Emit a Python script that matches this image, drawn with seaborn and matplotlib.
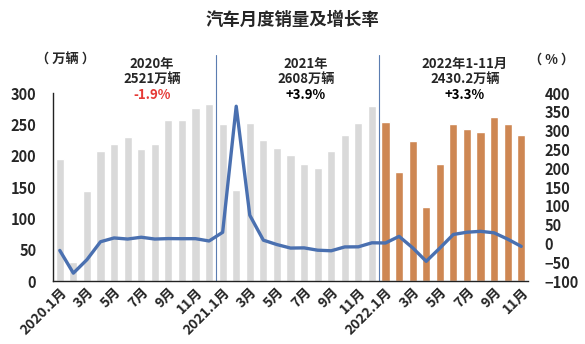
import numpy as np
import pandas as pd
import matplotlib
matplotlib.use("Agg")
import matplotlib.pyplot as plt
import seaborn as sns

months = [f"{y}.{m}" for y in (2020, 2021, 2022) for m in range(1, 13)][:35]
sales = [194.1, 31.0, 143.4, 207.0, 219.4, 229.8, 211.2, 218.6, 256.9, 257.3, 276.5, 283.1,
         250.3, 145.5, 252.6, 225.2, 212.8, 201.5, 186.4, 179.9, 207.1, 233.3, 252.2, 278.6,
         253.1, 173.7, 223.4, 118.1, 186.2, 250.2, 242.0, 238.3, 261.0, 250.6, 232.6]
growth = [-18.7, -79.1, -43.3, 4.4, 14.5, 11.6, 16.4, 11.6, 12.8, 12.5, 12.6, 6.4,
          29.5, 364.8, 74.9, 8.6, -3.1, -12.4, -11.9, -18.1, -19.6, -9.4, -9.1, 1.6,
          1.1, 18.7, -11.7, -47.6, -12.6, 23.8, 29.7, 32.1, 28.1, 11.4, -7.9]
tick_labels = ["2020.1月", "3月", "5月", "7月", "9月", "11月",
               "2021.1月", "3月", "5月", "7月", "9月", "11月",
               "2022.1月", "3月", "5月", "7月", "9月", "11月"]
annot_titles = ["2020年", "2021年", "2022年1-11月"]
annot_totals = ["2521万辆", "2608万辆", "2430.2万辆"]
annot_growth = ["-1.9%", "+3.9%", "+3.3%"]

sns.set_style("white")
plt.rcParams['font.family'] = ['Noto Sans CJK SC', 'DejaVu Sans']
W = "black"  # heavy font weight
plt.rcParams['font.weight'] = W

df = pd.DataFrame({
    "pos": np.arange(len(sales)),
    "sales": sales,
    "growth": growth,
    "grp": ["old"] * 24 + ["new"] * 11,
})

fig = plt.figure(figsize=(5.85, 3.44), dpi=100)
ax = fig.add_axes([53 / 585, 1 - 281 / 344, (528 - 53) / 585, (281 - 93) / 344])
sns.barplot(data=df, x="pos", y="sales", hue="grp", dodge=False, width=0.6,
            palette={"old": "#D9D9D9", "new": "#E2843F"}, legend=False, ax=ax,
            native_scale=True)
ax.set_xlim(-0.5, 34.5)
ax.set_ylim(0, 300)
ax.set_yticks(np.arange(0, 301, 50))
ax.set_xticks(np.arange(0, 35, 2))
ax.set_xticklabels(tick_labels, rotation=45, ha="right", rotation_mode="anchor",
                   fontsize=10, fontweight=W)
ax.tick_params(axis="y", length=0, pad=12, labelsize=10.5)
ax.tick_params(axis="x", length=0, pad=3)
for t in ax.get_yticklabels():
    t.set_fontweight(W)
ax.set_xlabel("")
ax.set_ylabel("")
for s in ("top", "right"):
    ax.spines[s].set_visible(False)
ax.spines["left"].set_color("#222222")
ax.spines["bottom"].set_color("#222222")
ax.spines["left"].set_linewidth(1.0)
ax.spines["bottom"].set_linewidth(1.0)

ax2 = ax.twinx()
sns.lineplot(data=df, x="pos", y="growth", ax=ax2, color="#4A70B0", linewidth=2.4)
ax2.set_ylim(-100, 400)
ax2.set_yticks(np.arange(-100, 401, 50))
ax2.tick_params(axis="y", length=0, pad=12, labelsize=10.5)
for t in ax2.get_yticklabels():
    t.set_fontweight(W)
ax2.set_ylabel("")
ax2.set_xlabel("")
for s in ("top", "right", "left", "bottom"):
    ax2.spines[s].set_visible(False)
ax2.set_xlim(-0.5, 34.5)

# separators
for xs in (11.5, 23.5):
    ax.plot([xs, xs], [0, 300 + 38 / 188 * 300], color="#5B7DB1", lw=0.8,
            clip_on=False, zorder=1)

fig.text(0.5, 1 - 20 / 344, "汽车月度销量及增长率", ha="center", va="center",
         fontsize=12.5, fontweight=W)
fig.text(66 / 585, 1 - 60 / 344, "（ 万辆 ）", ha="center", va="center",
         fontsize=9.5, fontweight=W)
fig.text(552 / 585, 1 - 60 / 344, "（ % ）", ha="center", va="center",
         fontsize=9.5, fontweight=W)

centers = [152, 306, 465]
for i, cx in enumerate(centers):
    fig.text(cx / 585, 1 - 64 / 344, annot_titles[i], ha="center", va="center",
             fontsize=9.5, fontweight=W)
    fig.text(cx / 585, 1 - 79 / 344, annot_totals[i], ha="center", va="center",
             fontsize=9.5, fontweight=W)
    fig.text(cx / 585, 1 - 95 / 344, annot_growth[i], ha="center", va="center",
             fontsize=9.5, fontweight=W,
             color="#E53935" if i == 0 else "black")

fig.savefig("out.png", dpi=100)
